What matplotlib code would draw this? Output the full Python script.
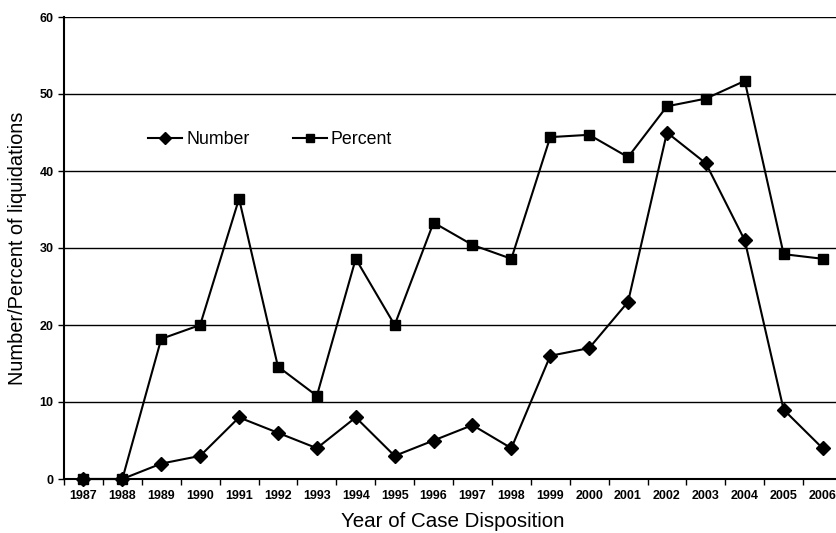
import matplotlib
matplotlib.use("Agg")
import matplotlib.pyplot as plt
import numpy as np

years = [str(y) for y in range(1987, 2007)]
number = [0, 0, 2, 3, 8, 6, 4, 8, 3, 5, 7, 4, 16, 17, 23, 45, 41, 31, 9, 4]
percent = [0, 0, 18.2, 20, 36.4, 14.6, 10.8, 28.6, 20, 33.3, 30.4, 28.6,
           44.4, 44.7, 41.8, 48.4, 49.4, 51.7, 29.2, 28.6]

plt.rcParams['font.family'] = ['Liberation Sans', 'DejaVu Sans']

fig = plt.figure(figsize=(8.37, 5.33), dpi=100)
ax = fig.add_axes([64/837, 54/533, 778/837, 462/533])

x = np.arange(len(years))
ax.plot(x, number, color='black', lw=1.5, marker='D', ms=7, label='Number',
        clip_on=False, zorder=3)
ax.plot(x, percent, color='black', lw=1.5, marker='s', ms=7, label='Percent',
        clip_on=False, zorder=3)

ax.set_xlim(-0.5, len(years) - 0.5)
ax.set_ylim(0, 60)
ax.set_yticks(range(0, 61, 10))
ax.yaxis.grid(True, color='black', lw=1.0)
ax.set_axisbelow(True)

ax.set_xticks(x)
ax.set_xticklabels(years, fontsize=9, fontweight='bold')
ax.set_xticks(np.arange(-0.5, len(years), 1), minor=True)
ax.tick_params(axis='x', which='major', length=0, pad=8)
ax.tick_params(axis='x', which='minor', length=4, width=1, direction='out')
ax.tick_params(axis='y', length=4, width=1, labelsize=9)
for lab in ax.get_yticklabels():
    lab.set_fontweight('bold')

for s in ['top', 'right']:
    ax.spines[s].set_visible(False)
ax.spines['left'].set_linewidth(1.5)
ax.spines['bottom'].set_linewidth(1.5)

ax.set_xlabel('Year of Case Disposition', fontsize=14.8, labelpad=7)
ax.set_ylabel('Number/Percent of liquidations', fontsize=14.4, labelpad=9)

leg = ax.legend(loc='upper left', bbox_to_anchor=(0.088, 0.787), ncol=2,
                frameon=False, fontsize=12.8, handlelength=1.9, markerscale=0.85,
                columnspacing=2.4, handletextpad=0.25)

fig.savefig('out.png', dpi=100)
